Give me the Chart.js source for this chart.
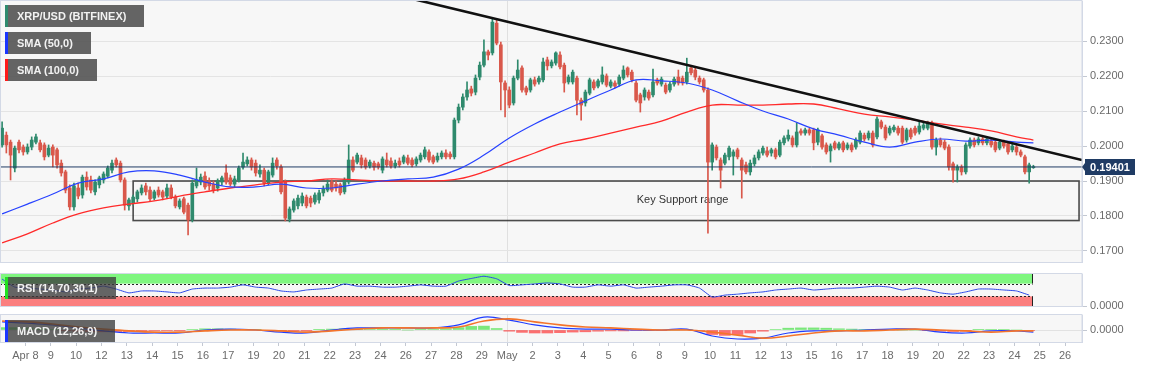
<!DOCTYPE html>
<html>
<head>
<meta charset="utf-8">
<script src="https://cdn.jsdelivr.net/npm/chart.js@4.4.1/dist/chart.umd.min.js"></script>
<style>
  html, body { margin: 0; padding: 0; background: #fff; }
  body { width: 1153px; height: 367px; position: relative; overflow: hidden; }
  canvas { position: absolute; left: 0; }
  .tag {
    position: absolute; left: 5px; height: 22px;
    padding: 0 18px 0 9px; border-left: 3px solid;
    background: rgba(88, 88, 88, 0.93); color: #f2f2f2;
    font: bold 11px "Liberation Sans", Arial, sans-serif;
    line-height: 22px;
    white-space: nowrap; z-index: 5;
  }
  .tag.sub { background: rgba(60, 60, 60, 0.78); }
</style>
</head>
<body>
<canvas id="main" width="1153" height="270" style="top:0"></canvas>
<canvas id="rsi" width="1153" height="50" style="top:266px"></canvas>
<canvas id="macd" width="1153" height="61" style="top:306px"></canvas>

<div class="tag" style="top:5px; border-color:#2e8a6e">XRP/USD (BITFINEX)</div>
<div class="tag" style="top:32px; border-color:#1a36ff">SMA (50,0)</div>
<div class="tag" style="top:59px; border-color:#ff1a1a">SMA (100,0)</div>
<div class="tag sub" style="top:277px; border-color:#22e022">RSI (14,70,30,1)</div>
<div class="tag sub" style="top:320px; border-color:#1a36ff">MACD (12,26,9)</div>

<script>
// XRP/USD 4h - bougies, SMA 50/100, ligne de tendance, zone de support, RSI et MACD

const UP = "#2f8a6d";
const DOWN = "#d9584b";

// axe des dates (une étiquette toutes les 6 bougies)
const tickLabels = ["Apr 8", "9", "10", "12", "13", "14", "15", "16", "17", "19", "20", "21", "22", "23", "24",
  "26", "27", "28", "29", "May", "2", "3", "4", "5", "6", "8", "9", "10", "11", "12", "13",
  "15", "16", "17", "18", "19", "20", "22", "23", "24", "25", "26"];
const priceTicks = [0.17, 0.18, 0.19, 0.20, 0.21, 0.22, 0.23];

const opens = [
  0.2003, 0.2031, 0.2011, 0.1937, 0.2011, 0.1997, 0.1983, 0.1997, 0.2011, 0.2009,
  0.2003, 0.1974, 0.1997, 0.1989, 0.1951, 0.1926, 0.1880, 0.1826, 0.1880, 0.1860,
  0.1911, 0.1903, 0.1869, 0.1889, 0.1903, 0.1914, 0.1931, 0.1960, 0.1951, 0.1903,
  0.1829, 0.1837, 0.1849, 0.1866, 0.1886, 0.1874, 0.1851, 0.1874, 0.1869, 0.1857,
  0.1880, 0.1854, 0.1826, 0.1849, 0.1831, 0.1789, 0.1886, 0.1897, 0.1914, 0.1900,
  0.1891, 0.1880, 0.1897, 0.1923, 0.1909, 0.1891, 0.1903, 0.1940, 0.1949, 0.1960,
  0.1951, 0.1920, 0.1931, 0.1894, 0.1917, 0.1960, 0.1940, 0.1897, 0.1791, 0.1817,
  0.1829, 0.1837, 0.1854, 0.1851, 0.1840, 0.1846, 0.1866, 0.1874, 0.1897, 0.1891,
  0.1889, 0.1869, 0.1897, 0.1960, 0.1954, 0.1966, 0.1960, 0.1943, 0.1951, 0.1949,
  0.1931, 0.1960, 0.1957, 0.1943, 0.1957, 0.1954, 0.1966, 0.1960, 0.1949, 0.1960,
  0.1969, 0.1983, 0.1969, 0.1960, 0.1969, 0.1980, 0.1977, 0.1969, 0.2074, 0.2111,
  0.2140, 0.2163, 0.2154, 0.2197, 0.2231, 0.2269, 0.2266, 0.2351, 0.2289, 0.2180,
  0.2160, 0.2123, 0.2194, 0.2223, 0.2166, 0.2160, 0.2189, 0.2183, 0.2189, 0.2246,
  0.2229, 0.2237, 0.2260, 0.2231, 0.2183, 0.2183, 0.2194, 0.2131, 0.2123, 0.2151,
  0.2183, 0.2171, 0.2183, 0.2200, 0.2171, 0.2180, 0.2177, 0.2194, 0.2223, 0.2211,
  0.2180, 0.2146, 0.2140, 0.2154, 0.2146, 0.2189, 0.2177, 0.2174, 0.2160, 0.2177,
  0.2197, 0.2194, 0.2183, 0.2223, 0.2217, 0.2194, 0.2189, 0.2160, 0.1954, 0.1997,
  0.1960, 0.1951, 0.1969, 0.1971, 0.1989, 0.1960, 0.1946, 0.1926, 0.1949, 0.1966,
  0.1980, 0.1986, 0.1980, 0.1989, 0.1974, 0.2009, 0.2020, 0.2023, 0.2003, 0.2043,
  0.2037, 0.2046, 0.2046, 0.2011, 0.2029, 0.2003, 0.1986, 0.2009, 0.1994, 0.2009,
  0.1994, 0.2003, 0.1997, 0.2011, 0.2031, 0.2023, 0.2037, 0.2026, 0.2069, 0.2054,
  0.2037, 0.2046, 0.2051, 0.2051, 0.2017, 0.2046, 0.2051, 0.2040, 0.2051, 0.2051,
  0.2066, 0.1997, 0.2017, 0.2011, 0.1997, 0.1949, 0.1931, 0.1940, 0.1926, 0.2000,
  0.2017, 0.2009, 0.2020, 0.2009, 0.2014, 0.2011, 0.1994, 0.2011, 0.2006, 0.1989,
  0.1997, 0.1983, 0.1969, 0.1926, 0.1938
];
const highs = [
  0.2069, 0.2040, 0.2017, 0.2000, 0.2017, 0.2003, 0.2006, 0.2026, 0.2034, 0.2017,
  0.2009, 0.2003, 0.2003, 0.1994, 0.1960, 0.1931, 0.1889, 0.1894, 0.1894, 0.1917,
  0.1926, 0.1914, 0.1903, 0.1914, 0.1926, 0.1943, 0.1960, 0.1966, 0.1957, 0.1909,
  0.1851, 0.1860, 0.1874, 0.1889, 0.1894, 0.1883, 0.1874, 0.1883, 0.1874, 0.1891,
  0.1889, 0.1860, 0.1849, 0.1854, 0.1837, 0.1903, 0.1937, 0.1920, 0.1926, 0.1909,
  0.1900, 0.1906, 0.1914, 0.1946, 0.1917, 0.1914, 0.1943, 0.1980, 0.1969, 0.1966,
  0.1960, 0.1946, 0.1937, 0.1931, 0.1966, 0.1966, 0.1946, 0.1903, 0.1826, 0.1849,
  0.1860, 0.1866, 0.1860, 0.1857, 0.1866, 0.1874, 0.1886, 0.1903, 0.1903, 0.1900,
  0.1894, 0.1909, 0.2003, 0.1969, 0.1980, 0.1974, 0.1966, 0.1960, 0.1957, 0.1954,
  0.1969, 0.1980, 0.1966, 0.1960, 0.1966, 0.1974, 0.1974, 0.1966, 0.1969, 0.1980,
  0.1997, 0.1989, 0.1974, 0.1980, 0.1986, 0.1989, 0.1983, 0.2080, 0.2120, 0.2149,
  0.2183, 0.2171, 0.2203, 0.2240, 0.2303, 0.2274, 0.2363, 0.2360, 0.2297, 0.2186,
  0.2169, 0.2200, 0.2246, 0.2229, 0.2171, 0.2194, 0.2197, 0.2200, 0.2251, 0.2254,
  0.2246, 0.2269, 0.2269, 0.2237, 0.2203, 0.2217, 0.2200, 0.2137, 0.2160, 0.2194,
  0.2189, 0.2191, 0.2226, 0.2206, 0.2189, 0.2186, 0.2203, 0.2229, 0.2226, 0.2217,
  0.2186, 0.2151, 0.2166, 0.2160, 0.2220, 0.2194, 0.2197, 0.2180, 0.2183, 0.2197,
  0.2217, 0.2200, 0.2251, 0.2229, 0.2223, 0.2200, 0.2194, 0.2166, 0.2009, 0.2003,
  0.1966, 0.1980, 0.2000, 0.1989, 0.1994, 0.1966, 0.1954, 0.1960, 0.1974, 0.1989,
  0.2000, 0.1997, 0.1994, 0.1994, 0.2017, 0.2029, 0.2046, 0.2029, 0.2066, 0.2049,
  0.2051, 0.2051, 0.2051, 0.2051, 0.2034, 0.2009, 0.2006, 0.2014, 0.2011, 0.2014,
  0.2009, 0.2009, 0.2023, 0.2043, 0.2037, 0.2043, 0.2043, 0.2083, 0.2074, 0.2060,
  0.2057, 0.2060, 0.2057, 0.2057, 0.2051, 0.2051, 0.2057, 0.2069, 0.2066, 0.2071,
  0.2071, 0.2023, 0.2023, 0.2017, 0.2003, 0.1954, 0.1946, 0.1946, 0.2009, 0.2023,
  0.2023, 0.2026, 0.2026, 0.2026, 0.2020, 0.2017, 0.2017, 0.2017, 0.2011, 0.2006,
  0.2003, 0.1989, 0.1974, 0.1951, 0.1945
];
const lows = [
  0.1997, 0.1980, 0.1903, 0.1926, 0.1980, 0.1974, 0.1977, 0.1989, 0.2006, 0.1983,
  0.1960, 0.1969, 0.1940, 0.1937, 0.1914, 0.1866, 0.1817, 0.1817, 0.1849, 0.1851,
  0.1874, 0.1866, 0.1860, 0.1880, 0.1894, 0.1909, 0.1923, 0.1940, 0.1897, 0.1817,
  0.1817, 0.1831, 0.1840, 0.1860, 0.1860, 0.1843, 0.1846, 0.1854, 0.1846, 0.1851,
  0.1849, 0.1823, 0.1820, 0.1806, 0.1746, 0.1783, 0.1880, 0.1889, 0.1877, 0.1874,
  0.1866, 0.1871, 0.1889, 0.1891, 0.1886, 0.1883, 0.1897, 0.1934, 0.1943, 0.1931,
  0.1914, 0.1911, 0.1886, 0.1889, 0.1911, 0.1934, 0.1863, 0.1786, 0.1783, 0.1811,
  0.1820, 0.1829, 0.1823, 0.1826, 0.1834, 0.1837, 0.1857, 0.1869, 0.1869, 0.1871,
  0.1860, 0.1863, 0.1891, 0.1926, 0.1949, 0.1937, 0.1934, 0.1937, 0.1931, 0.1934,
  0.1923, 0.1940, 0.1937, 0.1937, 0.1940, 0.1949, 0.1946, 0.1940, 0.1943, 0.1954,
  0.1963, 0.1954, 0.1949, 0.1954, 0.1963, 0.1963, 0.1963, 0.1963, 0.2066, 0.2103,
  0.2131, 0.2143, 0.2146, 0.2189, 0.2226, 0.2246, 0.2260, 0.2289, 0.2103, 0.2083,
  0.2109, 0.2117, 0.2189, 0.2154, 0.2146, 0.2154, 0.2171, 0.2177, 0.2183, 0.2217,
  0.2223, 0.2231, 0.2220, 0.2154, 0.2177, 0.2177, 0.2089, 0.2074, 0.2114, 0.2146,
  0.2160, 0.2166, 0.2177, 0.2169, 0.2166, 0.2166, 0.2171, 0.2189, 0.2197, 0.2183,
  0.2126, 0.2097, 0.2131, 0.2131, 0.2140, 0.2174, 0.2171, 0.2149, 0.2154, 0.2171,
  0.2174, 0.2174, 0.2177, 0.2203, 0.2189, 0.2177, 0.2154, 0.1751, 0.1931, 0.1960,
  0.1880, 0.1946, 0.1960, 0.1917, 0.1963, 0.1851, 0.1920, 0.1917, 0.1943, 0.1960,
  0.1974, 0.1969, 0.1971, 0.1963, 0.1969, 0.2003, 0.2014, 0.1997, 0.1997, 0.2031,
  0.2031, 0.2031, 0.1989, 0.2003, 0.1991, 0.1977, 0.1954, 0.1989, 0.1989, 0.1983,
  0.1989, 0.1983, 0.1991, 0.2006, 0.2014, 0.2017, 0.1997, 0.2020, 0.2049, 0.2017,
  0.2031, 0.2040, 0.2031, 0.2006, 0.2011, 0.2020, 0.2031, 0.2034, 0.2046, 0.2046,
  0.1991, 0.1974, 0.1997, 0.1989, 0.1931, 0.1897, 0.1897, 0.1917, 0.1920, 0.1994,
  0.1997, 0.2003, 0.2003, 0.2003, 0.1997, 0.1983, 0.1989, 0.1994, 0.1977, 0.1983,
  0.1974, 0.1969, 0.1920, 0.1894, 0.1936
];
const closes = [
  0.2051, 0.2003, 0.1974, 0.1994, 0.1989, 0.1983, 0.1997, 0.2017, 0.2026, 0.1989,
  0.1969, 0.1994, 0.1974, 0.1946, 0.1923, 0.1874, 0.1826, 0.1886, 0.1857, 0.1911,
  0.1883, 0.1874, 0.1897, 0.1909, 0.1920, 0.1937, 0.1951, 0.1946, 0.1903, 0.1831,
  0.1846, 0.1854, 0.1869, 0.1880, 0.1869, 0.1849, 0.1869, 0.1860, 0.1854, 0.1880,
  0.1854, 0.1829, 0.1843, 0.1811, 0.1789, 0.1894, 0.1903, 0.1911, 0.1883, 0.1886,
  0.1874, 0.1900, 0.1909, 0.1897, 0.1891, 0.1906, 0.1937, 0.1954, 0.1960, 0.1940,
  0.1923, 0.1931, 0.1894, 0.1926, 0.1951, 0.1943, 0.1869, 0.1794, 0.1820, 0.1843,
  0.1851, 0.1857, 0.1829, 0.1837, 0.1860, 0.1866, 0.1877, 0.1891, 0.1874, 0.1880,
  0.1866, 0.1903, 0.1960, 0.1931, 0.1974, 0.1946, 0.1940, 0.1954, 0.1940, 0.1940,
  0.1963, 0.1946, 0.1943, 0.1951, 0.1946, 0.1969, 0.1951, 0.1946, 0.1963, 0.1974,
  0.1989, 0.1960, 0.1954, 0.1971, 0.1980, 0.1969, 0.1969, 0.2074, 0.2111, 0.2140,
  0.2160, 0.2151, 0.2194, 0.2231, 0.2269, 0.2260, 0.2354, 0.2294, 0.2183, 0.2160,
  0.2117, 0.2194, 0.2217, 0.2160, 0.2154, 0.2189, 0.2177, 0.2194, 0.2240, 0.2229,
  0.2240, 0.2266, 0.2226, 0.2180, 0.2197, 0.2211, 0.2131, 0.2117, 0.2154, 0.2189,
  0.2166, 0.2186, 0.2203, 0.2174, 0.2183, 0.2171, 0.2197, 0.2217, 0.2203, 0.2189,
  0.2131, 0.2123, 0.2160, 0.2137, 0.2183, 0.2180, 0.2191, 0.2154, 0.2177, 0.2191,
  0.2180, 0.2180, 0.2211, 0.2209, 0.2197, 0.2183, 0.2160, 0.1954, 0.2003, 0.1966,
  0.1931, 0.1974, 0.1994, 0.1983, 0.1969, 0.1931, 0.1926, 0.1951, 0.1966, 0.1983,
  0.1994, 0.1974, 0.1989, 0.1969, 0.2011, 0.2023, 0.2031, 0.2003, 0.2040, 0.2037,
  0.2046, 0.2037, 0.2009, 0.2046, 0.1997, 0.1983, 0.2000, 0.1994, 0.2006, 0.1989,
  0.2003, 0.1989, 0.2017, 0.2037, 0.2020, 0.2037, 0.2003, 0.2077, 0.2054, 0.2023,
  0.2051, 0.2054, 0.2037, 0.2011, 0.2046, 0.2026, 0.2037, 0.2057, 0.2060, 0.2066,
  0.1997, 0.2017, 0.2003, 0.1994, 0.1940, 0.1931, 0.1940, 0.1926, 0.2003, 0.2017,
  0.2003, 0.2020, 0.2009, 0.2020, 0.2003, 0.1989, 0.2011, 0.2000, 0.1983, 0.2000,
  0.1983, 0.1974, 0.1926, 0.1946, 0.1940
];

// moyennes mobiles, une valeur toutes les 6 bougies
const sma50 = [
  0.1806, 0.1834, 0.1863, 0.1894, 0.1906, 0.1926, 0.1929, 0.1917, 0.1897, 0.1883,
  0.1883, 0.1891, 0.1880, 0.1880, 0.1891, 0.1900, 0.1906, 0.1911, 0.1934, 0.1974,
  0.2023, 0.2063, 0.2097, 0.2129, 0.2160, 0.2189, 0.2186, 0.2180, 0.2160, 0.2129,
  0.2100, 0.2077, 0.2049, 0.2031, 0.2011, 0.1997, 0.2011, 0.2020, 0.2014, 0.2017,
  0.2011, 0.2009
];
const sma100 = [
  0.1723, 0.1749, 0.1780, 0.1806, 0.1823, 0.1834, 0.1843, 0.1857, 0.1869, 0.1880,
  0.1889, 0.1897, 0.1900, 0.1906, 0.1903, 0.1900, 0.1900, 0.1900, 0.1906, 0.1926,
  0.1954, 0.1980, 0.2006, 0.2020, 0.2037, 0.2054, 0.2071, 0.2097, 0.2117, 0.2117,
  0.2117, 0.2120, 0.2120, 0.2106, 0.2091, 0.2083, 0.2074, 0.2063, 0.2054, 0.2043,
  0.2026, 0.2017
];

// RSI et histogramme MACD : une valeur toutes les 3 bougies
const rsi = [
  84, 59, 56, 53, 50, 44, 53, 56, 62, 53,
  41, 47, 47, 44, 41, 53, 56, 56, 59, 66,
  59, 56, 47, 44, 50, 53, 56, 69, 62, 62,
  59, 59, 62, 66, 62, 62, 78, 86, 93, 85,
  64, 66, 69, 72, 69, 59, 59, 66, 62, 66,
  56, 59, 62, 66, 66, 56, 28, 34, 37, 41,
  44, 50, 53, 56, 50, 53, 56, 56, 59, 62,
  59, 50, 56, 50, 41, 37, 44, 53, 53, 50,
  47, 34
];
const macdHist = [
  0.0008, 0.0008, 0.0007, 0.0005, 0.0002, -0.0002, -0.0004, -0.0005, -0.0006, -0.0005,
  -0.0005, -0.0004, -0.0002, -0.0002, -0.0001, 0.0002, 0.0004, 0.0004, 0.0003, 0.0002,
  0.0001, -0.0002, -0.0004, -0.0004, -0.0003, 0.0001, 0.0003, 0.0004, 0.0004, 0.0002,
  0.0001, 0.0001, 0.0000, 0.0001, 0.0002, 0.0004, 0.0008, 0.0012, 0.0013, 0.0005,
  -0.0004, -0.0008, -0.0010, -0.0010, -0.0009, -0.0007, -0.0006, -0.0004, -0.0003, -0.0003,
  -0.0002, -0.0002, -0.0001, 0.0000, 0.0001, -0.0002, -0.0015, -0.0018, -0.0015, -0.0010,
  -0.0004, 0.0002, 0.0006, 0.0007, 0.0007, 0.0006, 0.0004, 0.0003, 0.0002, 0.0002,
  0.0001, 0.0000, 0.0000, -0.0002, -0.0004, -0.0005, -0.0004, 0.0001, 0.0002, 0.0002,
  0.0000, -0.0002
];
// lignes MACD / signal : une valeur toutes les 6 bougies
const macdLine = [
  0.0027, 0.0023, 0.0017, 0.0007, -0.0003, -0.0010, -0.0010, -0.0010, 0.0000, 0.0003,
  0.0000, -0.0007, -0.0010, 0.0000, 0.0007, 0.0007, 0.0007, 0.0007, 0.0017, 0.0043,
  0.0033, 0.0017, 0.0007, 0.0003, 0.0003, 0.0000, 0.0000, 0.0003, -0.0020, -0.0030,
  -0.0027, -0.0010, -0.0003, -0.0003, 0.0000, 0.0003, 0.0003, -0.0007, -0.0010, -0.0003,
  -0.0003, -0.0007
];
const signalLine = [
  0.0030, 0.0027, 0.0020, 0.0010, 0.0003, -0.0003, -0.0007, -0.0007, -0.0003, 0.0000,
  0.0000, -0.0003, -0.0007, -0.0003, 0.0003, 0.0007, 0.0007, 0.0007, 0.0010, 0.0030,
  0.0037, 0.0027, 0.0017, 0.0010, 0.0007, 0.0003, 0.0000, 0.0000, -0.0007, -0.0017,
  -0.0027, -0.0020, -0.0010, -0.0003, -0.0003, 0.0000, 0.0003, 0.0000, -0.0003, -0.0007,
  -0.0003, -0.0003
];

// annotations
const lastPrice = 0.19401;
const trendIdx = [80, 255.5];
const trendPrice = [0.2470, 0.1960];
const supportIdx = [31, 254.8];
const supportPrice = [0.1900, 0.1787];
const supportLabel = "Key Support range";
const supportLabelAt = [161, 0.1846];

const X_MIN = -0.5, X_MAX = 255.5;
const AXIS_W = 71;
const FONT = '"Liberation Sans", Arial, sans-serif';
Chart.defaults.font.family = FONT;

const lastIdx = closes.length - 1;
const every = (arr, step) => arr.map((v, k) => ({ x: Math.min(k * step, lastIdx), y: v }));

const candleColors = closes.map((c, i) => (c >= opens[i] ? UP : DOWN));
const bodies = closes.map((c, i) => ({ x: i, y: [opens[i], c] }));
const wicks = closes.map((c, i) => ({ x: i, y: [lows[i], highs[i]] }));

function xAxis(showLabels, mayLine) {
  return {
    type: "linear",
    min: X_MIN,
    max: X_MAX,
    offset: false,
    afterBuildTicks: (s) => {
      s.ticks = tickLabels.map((_, k) => ({ value: 5.5 + 6 * k }));
    },
    afterFit: (s) => {
      s.height = showLabels ? 25 : 0;
      s.paddingLeft = 0;
      s.paddingRight = 0;
    },
    border: { display: false },
    grid: {
      offset: false,
      drawTicks: showLabels,
      tickLength: 4,
      tickColor: "#c3c8d2",
      color: (c) => (mayLine && tickLabels[c.index] === "May" ? "#e0e0e0" : "rgba(0,0,0,0)"),
    },
    ticks: {
      display: showLabels,
      autoSkip: false,
      maxRotation: 0,
      padding: 3,
      color: "#6b6b6b",
      font: { size: 11 },
      callback: (v, i) => tickLabels[i],
    },
  };
}

function yAxis(min, max, ticks, gridColor) {
  return {
    position: "right",
    min,
    max,
    afterBuildTicks: (s) => {
      s.ticks = ticks.map((v) => ({ value: v }));
    },
    afterFit: (s) => {
      s.width = AXIS_W;
      s.paddingTop = 0;
      s.paddingBottom = 0;
    },
    border: { color: "#d3d9e6" },
    grid: { color: gridColor, tickLength: 5, tickColor: "#c3c8d2" },
    ticks: { color: "#6b6b6b", font: { size: 11 }, padding: 3, callback: (v) => Number(v).toFixed(4) },
  };
}

const panelBg = {
  id: "panelBg",
  beforeDraw(chart) {
    const { ctx, chartArea: a } = chart;
    ctx.save();
    ctx.fillStyle = "#f7f7f7";
    ctx.fillRect(a.left, a.top, a.width, a.height);
    ctx.restore();
  },
  afterDraw(chart) {
    const { ctx, chartArea: a } = chart;
    ctx.save();
    ctx.strokeStyle = "#d3d9e6";
    ctx.lineWidth = 1;
    ctx.strokeRect(a.left + 0.5, a.top - 0.5, a.width - 0.5, a.height + 1);
    ctx.restore();
  },
};

const base = {
  responsive: false,
  animation: false,
  devicePixelRatio: 1,
  events: [],
  plugins: { legend: { display: false }, tooltip: { enabled: false } },
};

// ---- graphique principal ----
const mainNotes = {
  id: "mainNotes",
  beforeDatasetsDraw(chart) {
    const { ctx, scales: { x, y } } = chart;
    const l = x.getPixelForValue(supportIdx[0]);
    const r = x.getPixelForValue(supportIdx[1]);
    const t = y.getPixelForValue(supportPrice[0]);
    const b = y.getPixelForValue(supportPrice[1]);
    ctx.save();
    ctx.strokeStyle = "rgba(45,45,45,0.85)";
    ctx.lineWidth = 1.6;
    ctx.strokeRect(l, t, r - l, b - t);
    ctx.fillStyle = "#333";
    ctx.font = "11px " + FONT;
    ctx.textAlign = "center";
    ctx.textBaseline = "middle";
    ctx.fillText(supportLabel, x.getPixelForValue(supportLabelAt[0]), y.getPixelForValue(supportLabelAt[1]));
    ctx.restore();
  },
  afterDraw(chart) {
    const { ctx, chartArea: a, scales: { y } } = chart;
    const py = Math.round(y.getPixelForValue(lastPrice));
    const x0 = a.right + 3;
    ctx.save();
    ctx.fillStyle = "#1f3b64";
    ctx.beginPath();
    ctx.moveTo(a.right, py);
    ctx.lineTo(x0, py - 4);
    ctx.lineTo(x0, py - 8);
    ctx.lineTo(x0 + 50, py - 8);
    ctx.lineTo(x0 + 50, py + 8);
    ctx.lineTo(x0, py + 8);
    ctx.lineTo(x0, py + 4);
    ctx.closePath();
    ctx.fill();
    ctx.fillStyle = "#fff";
    ctx.font = "bold 11px " + FONT;
    ctx.textAlign = "center";
    ctx.textBaseline = "middle";
    ctx.fillText(lastPrice.toFixed(5), x0 + 25, py + 0.5);
    ctx.restore();
  },
};

new Chart(document.getElementById("main"), {
  type: "bar",
  data: {
    datasets: [
      {
        type: "line",
        data: [{ x: trendIdx[0], y: trendPrice[0] }, { x: trendIdx[1], y: trendPrice[1] }],
        borderColor: "#111",
        borderWidth: 2.6,
        pointRadius: 0,
        order: 0,
      },
      { type: "line", data: every(sma50, 6), borderColor: "#2742ff", borderWidth: 1.2, pointRadius: 0, tension: 0.4, order: 1 },
      { type: "line", data: every(sma100, 6), borderColor: "#ff2a2a", borderWidth: 1.3, pointRadius: 0, tension: 0.4, order: 2 },
      {
        type: "line",
        data: [{ x: X_MIN, y: lastPrice }, { x: X_MAX, y: lastPrice }],
        borderColor: "#1f3b64",
        borderWidth: 1,
        pointRadius: 0,
        order: 3,
      },
      { data: bodies, backgroundColor: candleColors, barThickness: 3, grouped: false, minBarLength: 1, order: 4 },
      { data: wicks, backgroundColor: candleColors, barThickness: 1, grouped: false, order: 5 },
    ],
  },
  options: {
    ...base,
    layout: { padding: { top: 1, bottom: 8, left: 0, right: 0 } },
    scales: {
      x: xAxis(false, true),
      y: yAxis(0.166857, 0.241429, priceTicks, "#e4e4e4"),
    },
  },
  plugins: [panelBg, mainNotes],
});

// ---- RSI ----
const rsiBands = {
  id: "rsiBands",
  beforeDatasetsDraw(chart) {
    const { ctx, chartArea: a, scales: { x, y } } = chart;
    const r = Math.round(x.getPixelForValue(lastIdx - 0.3)) + 0.5;
    const y100 = y.getPixelForValue(100), y70 = y.getPixelForValue(70);
    const y30 = y.getPixelForValue(30), y0 = y.getPixelForValue(0);
    ctx.save();
    ctx.fillStyle = "#7ff67f";
    ctx.fillRect(a.left, y100, r - a.left, y70 - y100);
    ctx.fillStyle = "#fb7f7f";
    ctx.fillRect(a.left, y30, r - a.left, y0 - y30);
    ctx.strokeStyle = "#222";
    ctx.lineWidth = 1;
    ctx.setLineDash([2, 2]);
    ctx.beginPath();
    ctx.moveTo(a.left, Math.round(y70) + 0.5);
    ctx.lineTo(r, Math.round(y70) + 0.5);
    ctx.moveTo(a.left, Math.round(y30) + 0.5);
    ctx.lineTo(r, Math.round(y30) + 0.5);
    ctx.stroke();
    ctx.setLineDash([]);
    ctx.beginPath();
    ctx.moveTo(r, y100);
    ctx.lineTo(r, y70);
    ctx.moveTo(r, y30);
    ctx.lineTo(r, y0);
    ctx.stroke();
    ctx.restore();
  },
};

new Chart(document.getElementById("rsi"), {
  type: "line",
  data: {
    datasets: [{ data: every(rsi, 3), borderColor: "#2a48e8", borderWidth: 1, pointRadius: 0, tension: 0.15 }],
  },
  options: {
    ...base,
    layout: { padding: { top: 8, bottom: 10, left: 0, right: 0 } },
    scales: {
      x: xAxis(false, false),
      y: { ...yAxis(0, 100, [0], "#e4e4e4"), grid: { drawOnChartArea: false, tickLength: 5, tickColor: "#c3c8d2" } },
    },
  },
  plugins: [panelBg, rsiBands],
});

// ---- MACD ----
new Chart(document.getElementById("macd"), {
  type: "bar",
  data: {
    datasets: [
      { type: "line", data: every(signalLine, 6), borderColor: "#f4742b", borderWidth: 1.6, pointRadius: 0, tension: 0.4, order: 0 },
      { type: "line", data: every(macdLine, 6), borderColor: "#1f3cff", borderWidth: 1.2, pointRadius: 0, tension: 0.4, order: 1 },
      {
        data: every(macdHist, 3),
        backgroundColor: macdHist.map((v) => (v >= 0 ? "rgba(40,220,40,0.6)" : "rgba(255,20,20,0.6)")),
        barThickness: 11,
        grouped: false,
        order: 2,
      },
    ],
  },
  options: {
    ...base,
    layout: { padding: { top: 9, bottom: 0, left: 0, right: 0 } },
    scales: {
      x: xAxis(true, true),
      y: yAxis(-0.004, 0.005, [0], "#e2e2e2"),
    },
  },
  plugins: [panelBg],
});
</script>
</body>
</html>
